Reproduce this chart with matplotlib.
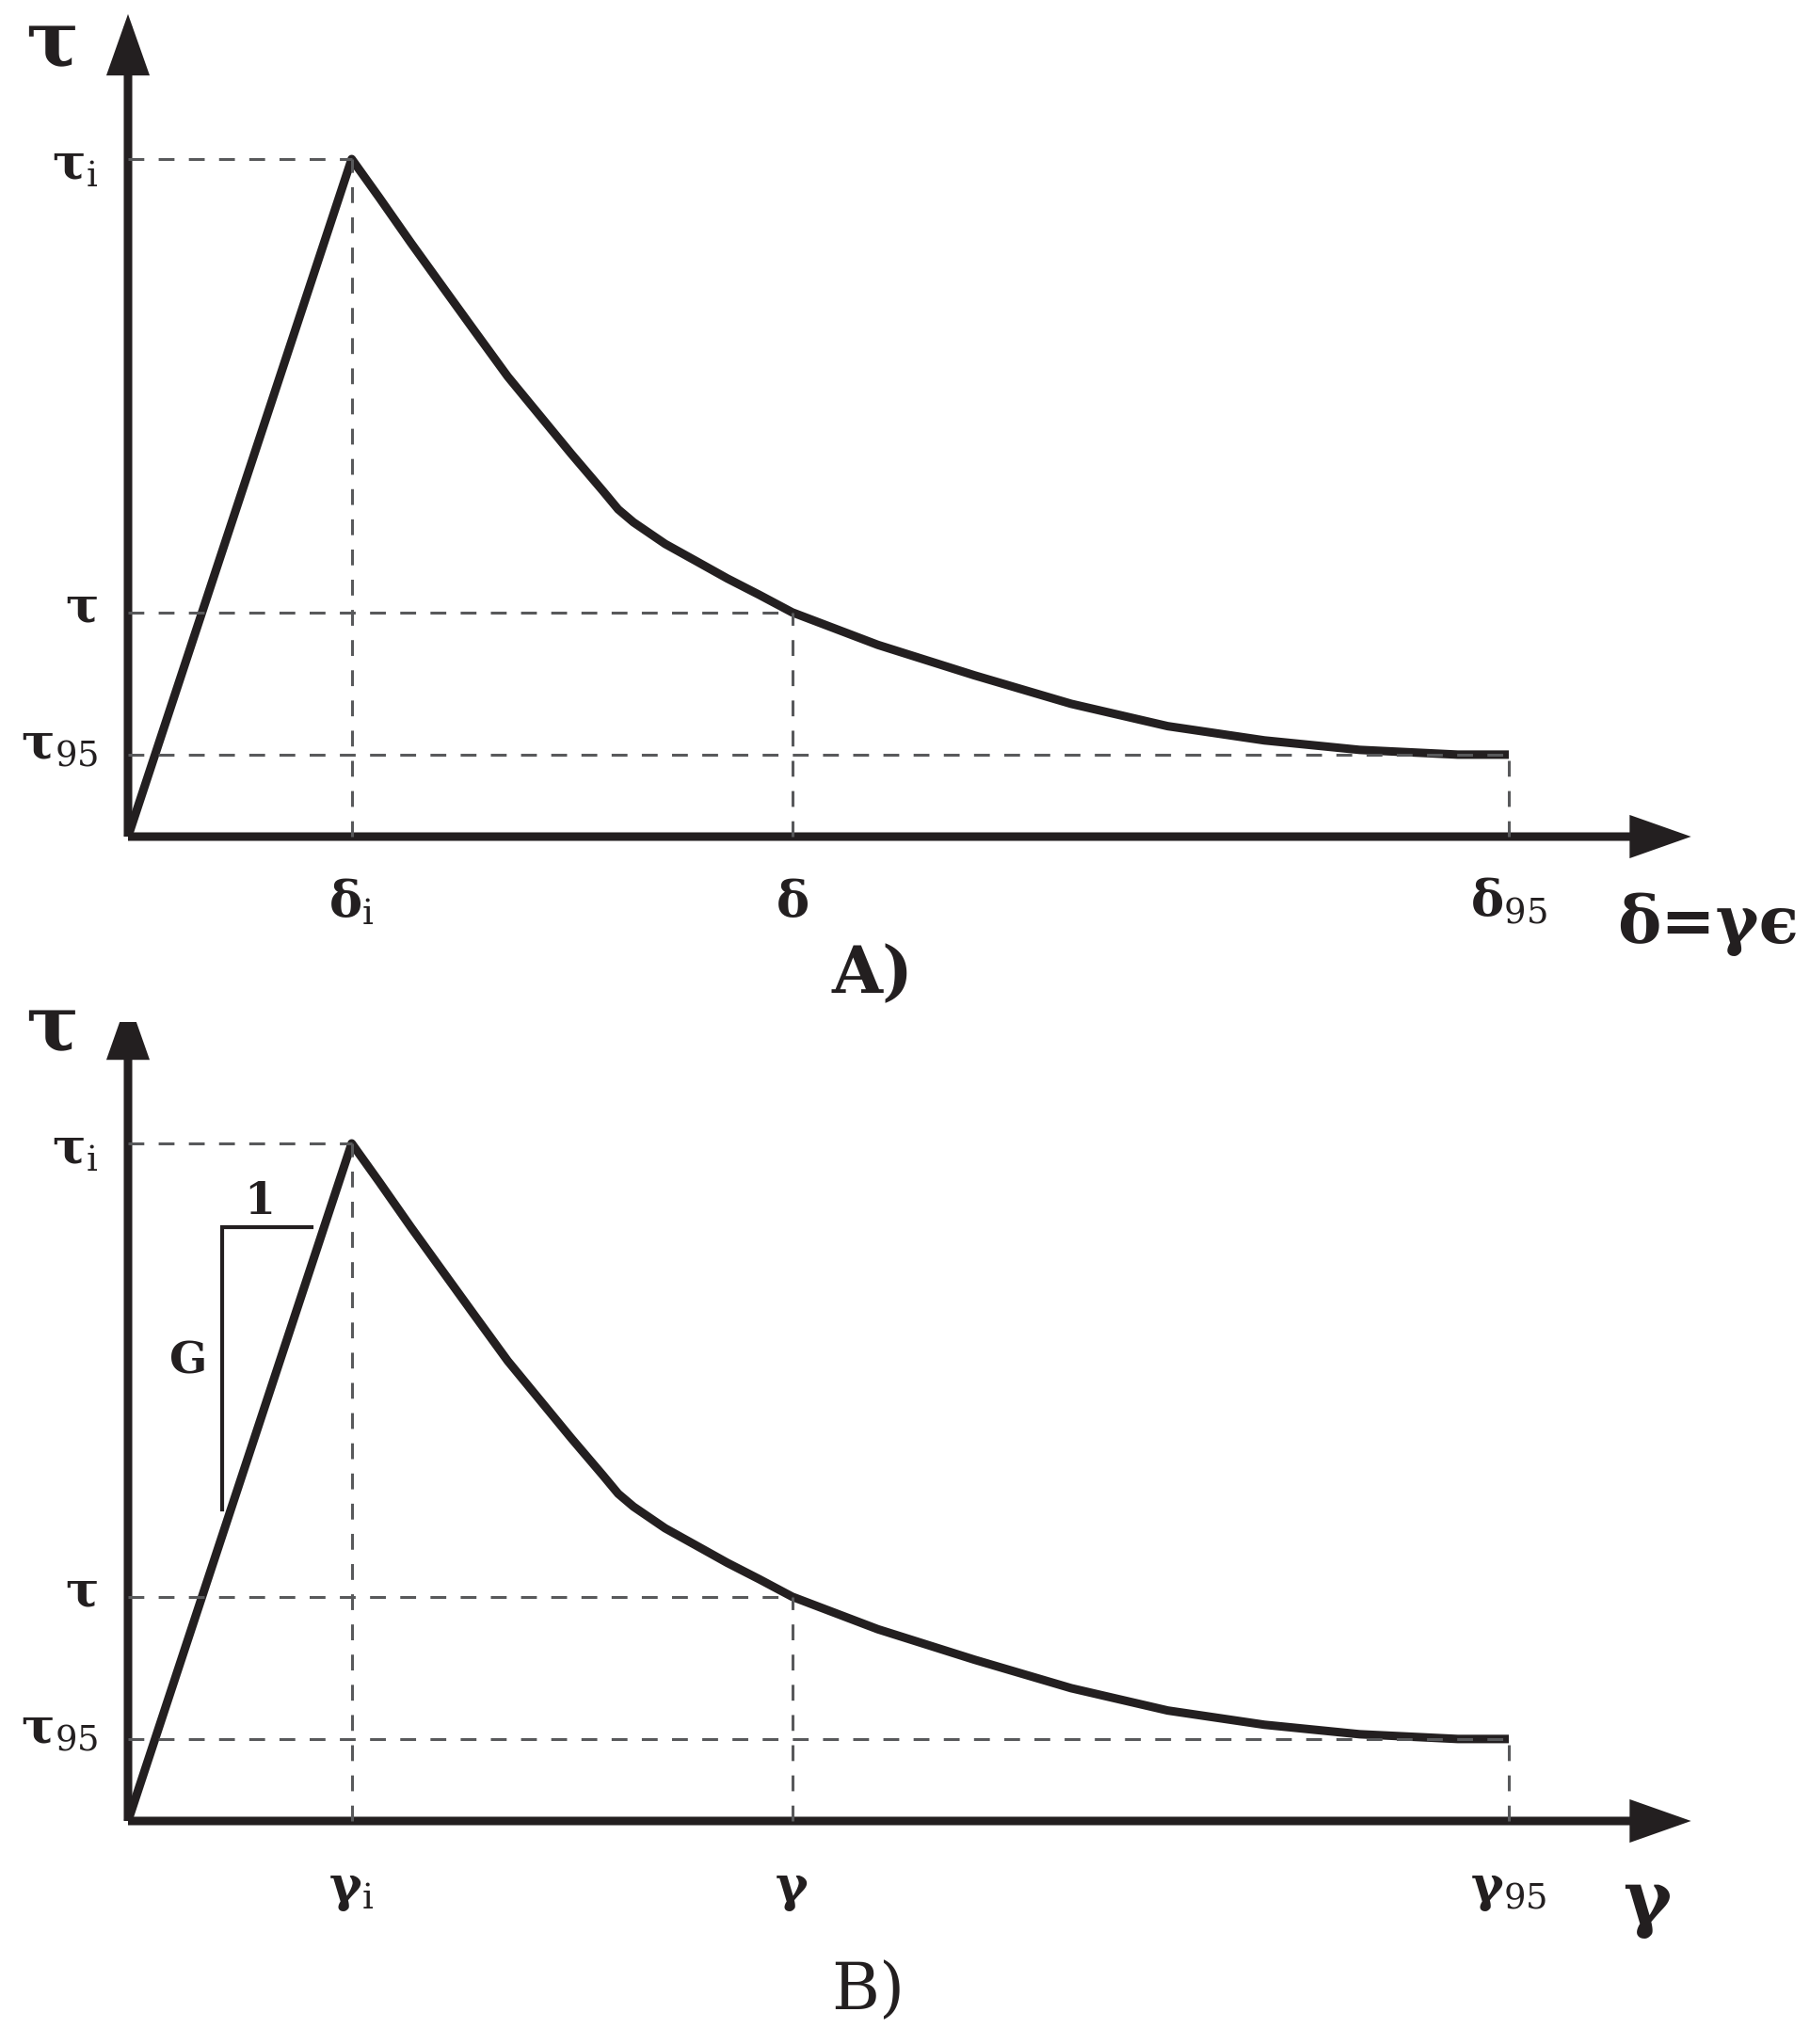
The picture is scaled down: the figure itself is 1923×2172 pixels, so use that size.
import matplotlib.pyplot as plt
from matplotlib.patches import FancyArrowPatch

plt.rcParams['mathtext.fontset'] = 'custom'
plt.rcParams['mathtext.rm'] = 'DejaVu Serif'
plt.rcParams['mathtext.bf'] = 'DejaVu Serif:bold'

# softening curve (x: 0..10 with x95 = 10, y: 0..10 with tau_i = 10)
strain = [0, 1.62, 1.82, 2.05, 2.28, 2.50, 2.75, 2.98, 3.21, 3.44, 3.55, 3.66, 3.89,
          4.12, 4.34, 4.57, 4.81, 5.43, 6.13, 6.83, 7.53, 8.23, 8.92, 9.63, 10.0]
stress = [0, 10.0, 9.43, 8.76, 8.11, 7.49, 6.79, 6.22, 5.65, 5.10, 4.83, 4.64, 4.32,
          4.06, 3.81, 3.57, 3.31, 2.83, 2.38, 1.96, 1.63, 1.42, 1.28, 1.21, 1.21]

# marked points (peak, intermediate, 95%)
x_marks = [1.62, 4.81, 10.0]
y_marks = [10.0, 3.31, 1.21]

y_labels = [r'$\mathbf{\tau}_{\mathrm{i}}$', r'$\mathbf{\tau}$', r'$\mathbf{\tau}_{\mathrm{95}}$']
top_x_labels = [r'$\mathbf{\delta}_{\mathrm{i}}$', r'$\mathbf{\delta}$', r'$\mathbf{\delta}_{\mathrm{95}}$']
bot_x_labels = [r'$\mathbf{\gamma}_{\mathrm{i}}$', r'$\mathbf{\gamma}$', r'$\mathbf{\gamma}_{\mathrm{95}}$']

# slope indicator G : 1 in panel B
slope_x = [0.68, 0.68, 1.33]
slope_y = [4.60, 8.76, 8.76]

W, H = 1923, 2172
SX, SY = 146.7, 72.0   # pixels per unit
X0 = 136               # pixel column of the origin
dark = '#231f20'
grey = '#58595b'
ylab_drop = [0.29, 0.14, 0.07]   # baseline offset of the tau labels below their line

fig = plt.figure(figsize=(W / 100, H / 100), dpi=100)


def panel(origin_row, row_top, row_bot):
    ax = fig.add_axes([0, 1 - row_bot / H, 1, (row_bot - row_top) / H])
    ax.set_xlim(-X0 / SX, (W - X0) / SX)
    ax.set_ylim((origin_row - row_bot) / SY, (origin_row - row_top) / SY)
    ax.axis('off')

    # axes with arrow heads
    for tip in [(0, 12.14), (11.32, 0)]:
        ax.add_patch(FancyArrowPatch((0, 0), tip, arrowstyle='-|>,head_length=34,head_width=12',
                                     mutation_scale=1, lw=6.5, color=dark, shrinkA=0, shrinkB=0,
                                     joinstyle='miter', capstyle='butt', zorder=3))

    ax.plot(strain, stress, color=dark, lw=6.5, solid_joinstyle='round',
            solid_capstyle='butt', zorder=4)

    for xm, ym in zip(x_marks, y_marks):
        ax.plot([0, xm], [ym, ym], color=grey, lw=2.2, ls=(0, (5.5, 5)), zorder=5)
        ax.plot([xm, xm], [0, ym], color=grey, lw=2.2, ls=(0, (5.5, 5)), zorder=5)

    for ym, lab, dy in zip(y_marks, y_labels, ylab_drop):
        ax.text(-0.22, ym - dy, lab, fontsize=38, ha='right', va='baseline', color=dark)

    ax.text(-0.55, 11.375, 'τ', fontsize=60, fontfamily='DejaVu Serif', fontweight='bold',
            ha='center', va='baseline', color=dark)
    return ax


top = panel(889, 0, 1086)
for xm, lab in zip(x_marks, top_x_labels):
    top.text(xm, -1.18, lab, fontsize=38, ha='center', va='baseline', color=dark)
top.text(12.10, -1.57, 'δ=γϵ', fontsize=50, fontfamily='DejaVu Serif', fontweight='bold',
         ha='right', va='baseline', color=dark)
top.text(5.39, -2.31, 'A)', fontsize=50, fontfamily='DejaVu Serif', fontweight='bold',
         ha='center', va='baseline', color=dark)

bot = panel(1935, 1086, 2172)
for xm, lab in zip(x_marks, bot_x_labels):
    bot.text(xm, -1.18, lab, fontsize=38, ha='center', va='baseline', color=dark)
bot.text(11.0, -1.51, 'γ', fontsize=56, fontfamily='DejaVu Serif', fontweight='bold',
         ha='center', va='baseline', color=dark)
bot.text(5.36, -2.78, 'B)', fontsize=50, fontfamily='DejaVu Serif',
         ha='center', va='baseline', color=dark)

bot.plot(slope_x, slope_y, color=dark, lw=3, solid_joinstyle='miter', zorder=4)
bot.text(0.95, 9.14, '1', fontsize=34, fontfamily='DejaVu Serif', fontweight='bold',
         ha='center', va='center', color=dark)
bot.text(0.44, 6.79, 'G', fontsize=34, fontfamily='DejaVu Serif', fontweight='bold',
         ha='center', va='center', color=dark)

fig.savefig('out.png', dpi=100)
